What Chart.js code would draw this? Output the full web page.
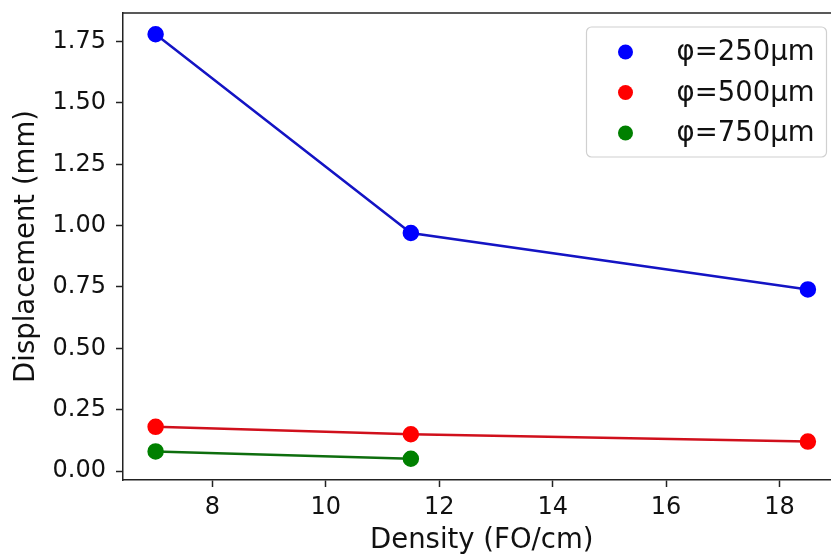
<!DOCTYPE html>
<html>
<head>
<meta charset="utf-8">
<script src="https://cdn.jsdelivr.net/npm/chart.js@4"></script>
<style>
    body { margin: 0; background: #fff; overflow: hidden; }
    #wrap { width: 831px; height: 555px; overflow: hidden; position: relative; }
    #box { width: 850px; height: 555px; position: absolute; left: 0; top: 0; }
</style>
</head>
<body>
<div id="wrap"><div id="box"><canvas id="chart"></canvas></div></div>
<script>
// data
const densities = [7, 11.5, 18.5];
const disp250 = [1.78, 0.97, 0.74];
const disp500 = [0.18, 0.15, 0.12];
const disp750 = [0.08, 0.05];
const seriesLabels = ['φ=250μm', 'φ=500μm', 'φ=750μm'];
const xTicks = [8, 10, 12, 14, 16, 18];
const yTicks = [0, 0.25, 0.5, 0.75, 1.0, 1.25, 1.5, 1.75];

const FONT = "'DejaVu Sans', sans-serif";
const AXIS = '#222';

function toPoints(xs, ys) {
    return ys.map((y, i) => ({ x: xs[i], y: y }));
}

function makeSet(label, values, lineColor, dotColor) {
    return {
        label: label,
        data: toPoints(densities, values),
        borderColor: lineColor,
        backgroundColor: dotColor,
        pointBackgroundColor: dotColor,
        pointBorderColor: dotColor,
        pointRadius: 7,
        pointHoverRadius: 7,
        borderWidth: 2.5,
        tension: 0
    };
}

// top spine (the right one falls outside the picture) + legend box
const framePlugin = {
    id: 'frame',
    afterDraw(chart) {
        const { ctx, chartArea } = chart;
        ctx.save();
        ctx.strokeStyle = AXIS;
        ctx.lineWidth = 1.5;
        ctx.beginPath();
        ctx.moveTo(chartArea.left, chartArea.top);
        ctx.lineTo(chartArea.right, chartArea.top);
        ctx.stroke();

        // legend
        const right = chartArea.right - 14;
        const top = chartArea.top + 14;
        const w = 240, h = 130;
        const left = right - w;
        ctx.beginPath();
        ctx.roundRect(left, top, w, h, 5);
        ctx.fillStyle = 'rgba(255,255,255,0.85)';
        ctx.fill();
        ctx.strokeStyle = '#d0d0d0';
        ctx.lineWidth = 1.2;
        ctx.stroke();

        ctx.font = '27.5px ' + FONT;
        ctx.textBaseline = 'middle';
        ctx.textAlign = 'left';
        chart.data.datasets.forEach((ds, i) => {
            const cy = top + 25 + i * 40.5;
            ctx.beginPath();
            ctx.arc(left + 39, cy, 7.5, 0, Math.PI * 2);
            ctx.fillStyle = ds.pointBackgroundColor;
            ctx.fill();
            ctx.fillStyle = '#111';
            ctx.fillText(ds.label, left + 90, cy + 1);
        });
        ctx.restore();
    }
};

new Chart(document.getElementById('chart'), {
    type: 'line',
    data: {
        datasets: [
            makeSet(seriesLabels[0], disp250, '#1414c4', '#0000ff'),
            makeSet(seriesLabels[1], disp500, '#d0101c', '#ff0000'),
            makeSet(seriesLabels[2], disp750, '#0e6e0e', '#008000')
        ]
    },
    options: {
        responsive: true,
        maintainAspectRatio: false,
        animation: false,
        layout: { padding: { top: 13, right: 9, left: 0, bottom: 0 } },
        plugins: {
            legend: { display: false },
            tooltip: { enabled: false }
        },
        scales: {
            x: {
                type: 'linear',
                min: 6.425,
                max: 19.075,
                afterBuildTicks: scale => { scale.ticks = xTicks.map(v => ({ value: v })); },
                afterFit: scale => {
                    scale.height = 75;
                    scale.paddingLeft = 0;
                    scale.paddingRight = 0;
                },
                ticks: {
                    color: '#111',
                    font: { family: FONT, size: 24 },
                    padding: 6,
                    maxRotation: 0,
                    callback: v => String(v)
                },
                grid: { drawOnChartArea: false, drawTicks: true, tickLength: 7, tickWidth: 1.5, tickColor: AXIS },
                border: { display: true, color: AXIS, width: 1.5 },
                title: {
                    display: true,
                    text: 'Density (FO/cm)',
                    color: '#111',
                    font: { family: FONT, size: 27.5, lineHeight: 1 },
                    padding: { top: 0, bottom: 0.5 }
                }
            },
            y: {
                type: 'linear',
                min: -0.0365,
                max: 1.8665,
                afterBuildTicks: scale => { scale.ticks = yTicks.map(v => ({ value: v })); },
                afterFit: scale => {
                    scale.width = 123;
                    scale.paddingTop = 0;
                    scale.paddingBottom = 0;
                },
                ticks: {
                    color: '#111',
                    font: { family: FONT, size: 24 },
                    padding: 10,
                    callback: v => Number(v).toFixed(2)
                },
                grid: { drawOnChartArea: false, drawTicks: true, tickLength: 7, tickWidth: 1.5, tickColor: AXIS },
                border: { display: true, color: AXIS, width: 1.5 },
                title: {
                    display: true,
                    text: 'Displacement (mm)',
                    color: '#111',
                    font: { family: FONT, size: 27.5, lineHeight: 1 },
                    padding: { top: 13.5, bottom: 0 }
                }
            }
        }
    },
    plugins: [framePlugin]
});
</script>
</body>
</html>
